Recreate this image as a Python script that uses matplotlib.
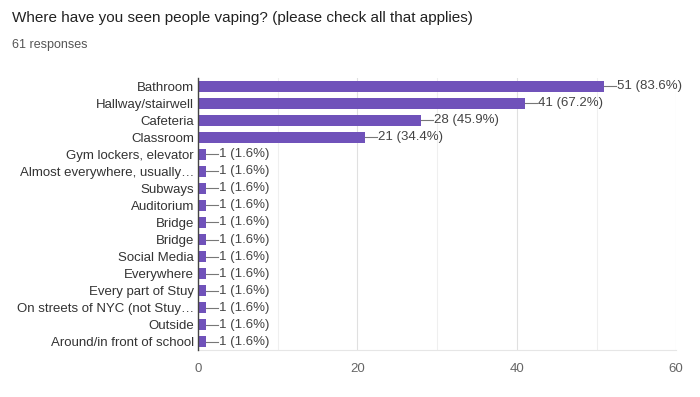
import numpy as np
import matplotlib.pyplot as plt

plt.rcParams['font.family'] = ['Liberation Sans', 'DejaVu Sans']

categories = [
    "Bathroom", "Hallway/stairwell", "Cafeteria", "Classroom",
    "Gym lockers, elevator", "Almost everywhere, usually…", "Subways",
    "Auditorium", "Bridge", "Bridge", "Social Media", "Everywhere",
    "Every part of Stuy", "On streets of NYC (not Stuy…", "Outside",
    "Around/in front of school",
]
counts = [51, 41, 28, 21, 1, 1, 1, 1, 1, 1, 1, 1, 1, 1, 1, 1]
total = 61
xticks = [0, 20, 40, 60]

bar_color = "#7052ba"

fig = plt.figure(figsize=(7, 3.97), dpi=100)
ax = fig.add_axes([0.283, 0.118, 0.683, 0.686])

y = np.arange(len(categories))
ax.barh(y, counts, height=0.64, color=bar_color, zorder=3)

for yi, c in zip(y, counts):
    pct = c / total * 100
    ax.plot([c, c + 1.5], [yi, yi], color="#777777", lw=0.8, zorder=3)
    ax.text(c + 1.6, yi, f"{c} ({pct:.1f}%)", va="center", ha="left",
            fontsize=9.5, color="#444444", zorder=4)

ax.set_xlim(0, 60)
ax.set_ylim(len(categories) - 0.5, -0.5)
ax.set_yticks(y)
ax.set_yticklabels(categories, fontsize=9.5, color="#333333")
ax.set_xticks(xticks)
ax.set_xticklabels([str(t) for t in xticks], fontsize=9.5, color="#666666")
ax.set_xticks(np.arange(10, 60, 20), minor=True)
ax.tick_params(axis="both", which="both", length=0, pad=3)
ax.tick_params(axis="x", pad=9)
ax.grid(axis="x", which="major", color="#e0e0e0", lw=0.8, zorder=0)
ax.grid(axis="x", which="minor", color="#efefef", lw=0.8, zorder=0)

for s in ["top", "right"]:
    ax.spines[s].set_visible(False)
ax.spines["bottom"].set_color("#e6e6e6")
ax.spines["left"].set_color("#444444")
ax.spines["left"].set_linewidth(1.0)
ax.spines["left"].set_zorder(5)

fig.text(12 / 700, 1 - 18 / 397, "Where have you seen people vaping? (please check all that applies)",
         fontsize=11, color="#222222", va="center", ha="left")
fig.text(12 / 700, 1 - 45 / 397, "61 responses", fontsize=9, color="#555555",
         va="center", ha="left")

fig.savefig("out.png", dpi=100, facecolor="white")
